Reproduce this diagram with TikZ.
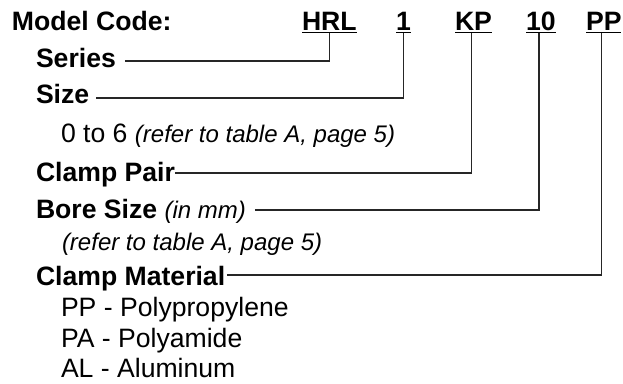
\documentclass[tikz,border=0pt]{standalone}
\usepackage{fontspec}
\setmainfont{Liberation Sans}
\begin{document}
\begin{tikzpicture}[x=1pt,y=-1pt,
  txt/.style={anchor=base west,inner sep=0pt,outer sep=0pt,font=\fontsize{26.6}{30}\selectfont},
  bld/.style={txt,font=\fontsize{26.6}{30}\selectfont\bfseries},
  conn/.style={draw=black!85,line width=1.4pt},
  uline/.style={draw=black,line width=1.5pt}]
\useasboundingbox (0,0) rectangle (623,383);
\newcommand{\itsm}[1]{{\fontsize{24}{28}\selectfont\itshape #1}}
% header
\node[bld] (model) at (12,30) {Model Code:};
\node[bld] (hrl) at (302,30) {HRL};
\node[bld] (one) at (396,30) {1};
\node[bld] (kp) at (455,30) {KP};
\node[bld] (ten) at (526,30) {10};
\node[bld] (pp) at (586,30) {PP};
\foreach \n in {hrl,one,kp,ten,pp}
  \draw[uline] ([yshift=-2.5pt]\n.base west) -- ([yshift=-2.5pt]\n.base east);
% labels
\node[bld] (series) at (36,67) {Series};
\node[bld] (size) at (36,103) {Size};
\node[txt] (sizeinfo) at (61,142) {0 to 6 \itsm{(refer to table A, page 5)}};
\node[bld] (clamp) at (36,181) {Clamp Pair};
\node[bld] (bore) at (36,218) {Bore Size \itsm{\mdseries(in mm)}};
\node[txt] (boreinfo) at (62,250) {\itsm{(refer to table A, page 5)}};
\node[bld] (mat) at (36,285) {Clamp Material};
\node[txt] (m1) at (61,316.5) {PP - Polypropylene};
\node[txt] (m2) at (61,347.5) {PA - Polyamide};
\node[txt] (m3) at (61,377.5) {AL - Aluminum};
% connectors
\draw[conn] ([xshift=9pt,yshift=6pt]series.base east) -| ([yshift=-2.5pt]hrl.base);
\draw[conn] ([xshift=7pt,yshift=5pt]size.base east) -| ([yshift=-2.5pt]one.base);
\draw[conn] ([xshift=0pt,yshift=8pt]clamp.base east) -| ([xshift=-2pt,yshift=-2.5pt]kp.base);
\draw[conn] ([xshift=9pt,yshift=8pt]bore.base east) -| ([xshift=-2pt,yshift=-2.5pt]ten.base);
\draw[conn] ([xshift=2pt,yshift=10pt]mat.base east) -| ([xshift=-2pt,yshift=-2.5pt]pp.base);
\end{tikzpicture}
\end{document}
